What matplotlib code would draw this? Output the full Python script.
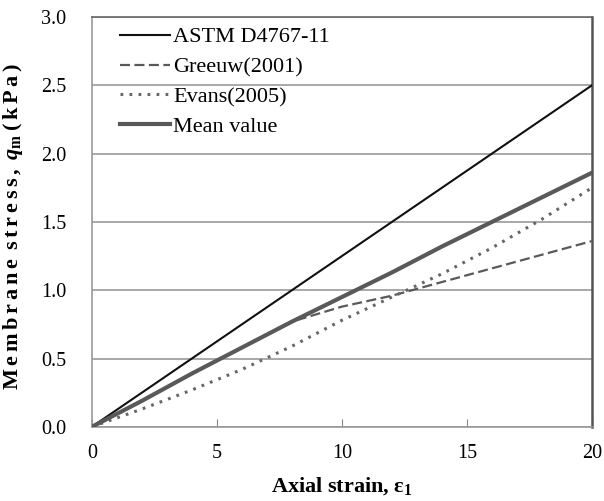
import matplotlib
matplotlib.use("Agg")
import matplotlib.pyplot as plt

# ---- data ----
astm_x = [0, 20]
astm_y = [0.0, 2.5]

greeuw_x = [0, 2, 4, 6, 8, 10, 12, 14, 16, 18, 20]
greeuw_y = [0.0, 0.19, 0.39, 0.58, 0.77, 0.88, 0.96, 1.06, 1.16, 1.26, 1.36]

evans_x = [0, 2, 4, 6, 8, 10, 12, 14, 16, 18, 20]
evans_y = [0.0, 0.13, 0.27, 0.42, 0.59, 0.78, 0.95, 1.12, 1.31, 1.52, 1.75]

mean_x = [0, 2, 4, 6, 8, 10, 12, 14, 16, 18, 20]
mean_y = [0.0, 0.19, 0.39, 0.58, 0.77, 0.95, 1.13, 1.32, 1.50, 1.68, 1.86]

labels = ["ASTM D4767-11", "Greeuw(2001)", "Evans(2005)", "Mean value"]
xticks = [0, 5, 10, 15, 20]
yticks = [0.0, 0.5, 1.0, 1.5, 2.0, 2.5, 3.0]

plt.rcParams['font.family'] = ['Liberation Serif', 'DejaVu Serif']
plt.rcParams['mathtext.fontset'] = 'custom'
plt.rcParams['mathtext.rm'] = 'Liberation Serif'
plt.rcParams['mathtext.it'] = 'Liberation Serif:italic'
plt.rcParams['mathtext.bf'] = 'Liberation Serif:bold'
try:
    plt.rcParams['mathtext.bfit'] = 'Liberation Serif:bold:italic'
except KeyError:
    pass

fig = plt.figure(figsize=(6.04, 5.01), dpi=100)
ax = fig.add_axes([0.152, 0.148, 0.828, 0.818])

ax.plot(astm_x, astm_y, color='#111111', lw=1.5, label=labels[0], zorder=3)
ax.plot(greeuw_x, greeuw_y, color='#595959', lw=1.6, ls=(0, (4.5, 2.0)), label=labels[1], zorder=3)
ax.plot(evans_x, evans_y, color='#666666', lw=2.2, ls=(0, (0.9, 2.05)), label=labels[2], zorder=3)
ax.plot(mean_x, mean_y, color='#595959', lw=3.0, label=labels[3], zorder=4)

ax.set_xlim(0, 20)
ax.set_ylim(0, 3.0)
ax.set_xticks(xticks)
ax.set_yticks(yticks)
ax.set_xticklabels([str(v) for v in xticks], fontsize=14.5)
ax.set_yticklabels([f"{v:.1f}" for v in yticks], fontsize=14.5)
ax.tick_params(axis='x', direction='in', length=6, color='#888888', pad=12)
ax.tick_params(axis='y', length=0, pad=18.5)

ax.grid(axis='y', color='#999999', lw=1.2)
ax.set_axisbelow(True)
for s in ['left', 'bottom']:
    ax.spines[s].set_color('#999999')
    ax.spines[s].set_linewidth(1.2)
ax.spines['top'].set_color('#666666')
ax.spines['top'].set_linewidth(1.2)
ax.spines['right'].set_color('#555555')
ax.spines['right'].set_linewidth(1.8)

ts = "\u200a\u200a"
ylab_plain = ts.join("Membrane") + ts + " " + ts.join("stress,") + ts + " "
ylab = ylab_plain + "$\\mathbfit{q}_\\mathbf{m}$" + ts + ts.join("(kPa)")
ax.set_xlabel("Axial strain, ε$_\\mathbf{1}$", fontsize=16, fontweight='bold')
ax.set_ylabel(ylab, fontsize=16, fontweight='bold')
ax.xaxis.set_label_coords(0.5, -0.117)
ax.yaxis.set_label_coords(-0.134, 0.49)

leg = ax.legend(loc='upper left', frameon=False, fontsize=16, handlelength=2.25,
                handletextpad=0.14, labelspacing=0.42, borderpad=0, borderaxespad=0,
                bbox_to_anchor=(0.056, 0.976))

fig.savefig("out.png", dpi=100)
